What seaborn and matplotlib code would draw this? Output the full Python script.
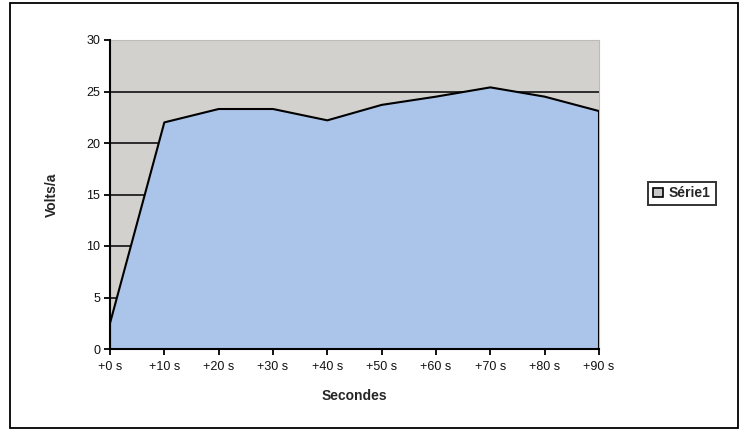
import matplotlib
matplotlib.use("Agg")
import matplotlib.pyplot as plt
import seaborn as sns
import pandas as pd
from matplotlib.patches import Rectangle, Patch

categories = ["+0 s", "+10 s", "+20 s", "+30 s", "+40 s", "+50 s", "+60 s", "+70 s", "+80 s", "+90 s"]
volts = [2.5, 22.0, 23.3, 23.3, 22.2, 23.7, 24.5, 25.4, 24.5, 23.1]
series_name = "Série1"
x_label = "Secondes"
y_label = "Volts/a"
y_ticks = [0, 5, 10, 15, 20, 25, 30]

sns.set_style("white")
plt.rcParams["font.family"] = ["Liberation Sans", "DejaVu Sans"]

df = pd.DataFrame({"pos": range(len(categories)), "volts": volts})

fig = plt.figure(figsize=(7.4, 4.3), dpi=100)
fig.patch.set_facecolor("white")
ax = fig.add_axes([110 / 740, 1 - 349 / 430, 489 / 740, 309 / 430])
ax.set_facecolor("#d3d1ce")

area_color = "#abc5ea"
# gridlines under the area
for yv in y_ticks[1:-1]:
    ax.axhline(yv, color="black", lw=1.1, zorder=1)

ax.fill_between(df["pos"], 0, df["volts"], facecolor=area_color, edgecolor="none", zorder=2)
sns.lineplot(data=df, x="pos", y="volts", ax=ax, color="black", lw=1.5, zorder=3)
ax.vlines([df["pos"].iloc[0], df["pos"].iloc[-1]], 0, [volts[0], volts[-1]], color="black", lw=1.5, zorder=3)

ax.set_xlim(0, len(categories) - 1)
ax.set_ylim(0, 30)
ax.set_yticks(y_ticks)
ax.set_xticks(range(len(categories)))
ax.set_xticklabels(categories)
ax.tick_params(axis="both", direction="out", length=4, width=1.3, color="black",
               labelsize=9, labelcolor="#111111", left=True, bottom=True)
ax.tick_params(axis="x", pad=5)
ax.tick_params(axis="y", pad=3)

for side in ["left", "bottom"]:
    ax.spines[side].set_color("black")
    ax.spines[side].set_linewidth(1.5)
for side in ["top", "right"]:
    ax.spines[side].set_color("#bdbbb8")
    ax.spines[side].set_linewidth(0.8)
ax.spines["left"].set_zorder(5)
ax.spines["bottom"].set_zorder(5)

ax.set_xlabel(x_label, fontsize=10, fontweight="bold", labelpad=11)
ax.set_ylabel(y_label, fontsize=10, fontweight="bold", labelpad=20)
ax.get_legend() and ax.get_legend().remove()

handle = Patch(facecolor="#c8c8c8", edgecolor="black", linewidth=1.2, label=series_name)
leg = fig.legend(handles=[handle], loc="center left", bbox_to_anchor=(648 / 740, 1 - 193.5 / 430),
                 frameon=True, fancybox=False, shadow=False,
                 prop={"size": 10, "weight": "bold"},
                 handlelength=0.7, handleheight=0.7, handletextpad=0.45, borderpad=0.35,
                 borderaxespad=0)
leg.get_frame().set_edgecolor("black")
leg.get_frame().set_linewidth(1.4)

fig.patches.append(Rectangle((10 / 740, 2 / 430), 728 / 740, 425 / 430, transform=fig.transFigure,
                             fill=False, edgecolor="black", linewidth=1.3))

fig.savefig("out.png", dpi=100)
